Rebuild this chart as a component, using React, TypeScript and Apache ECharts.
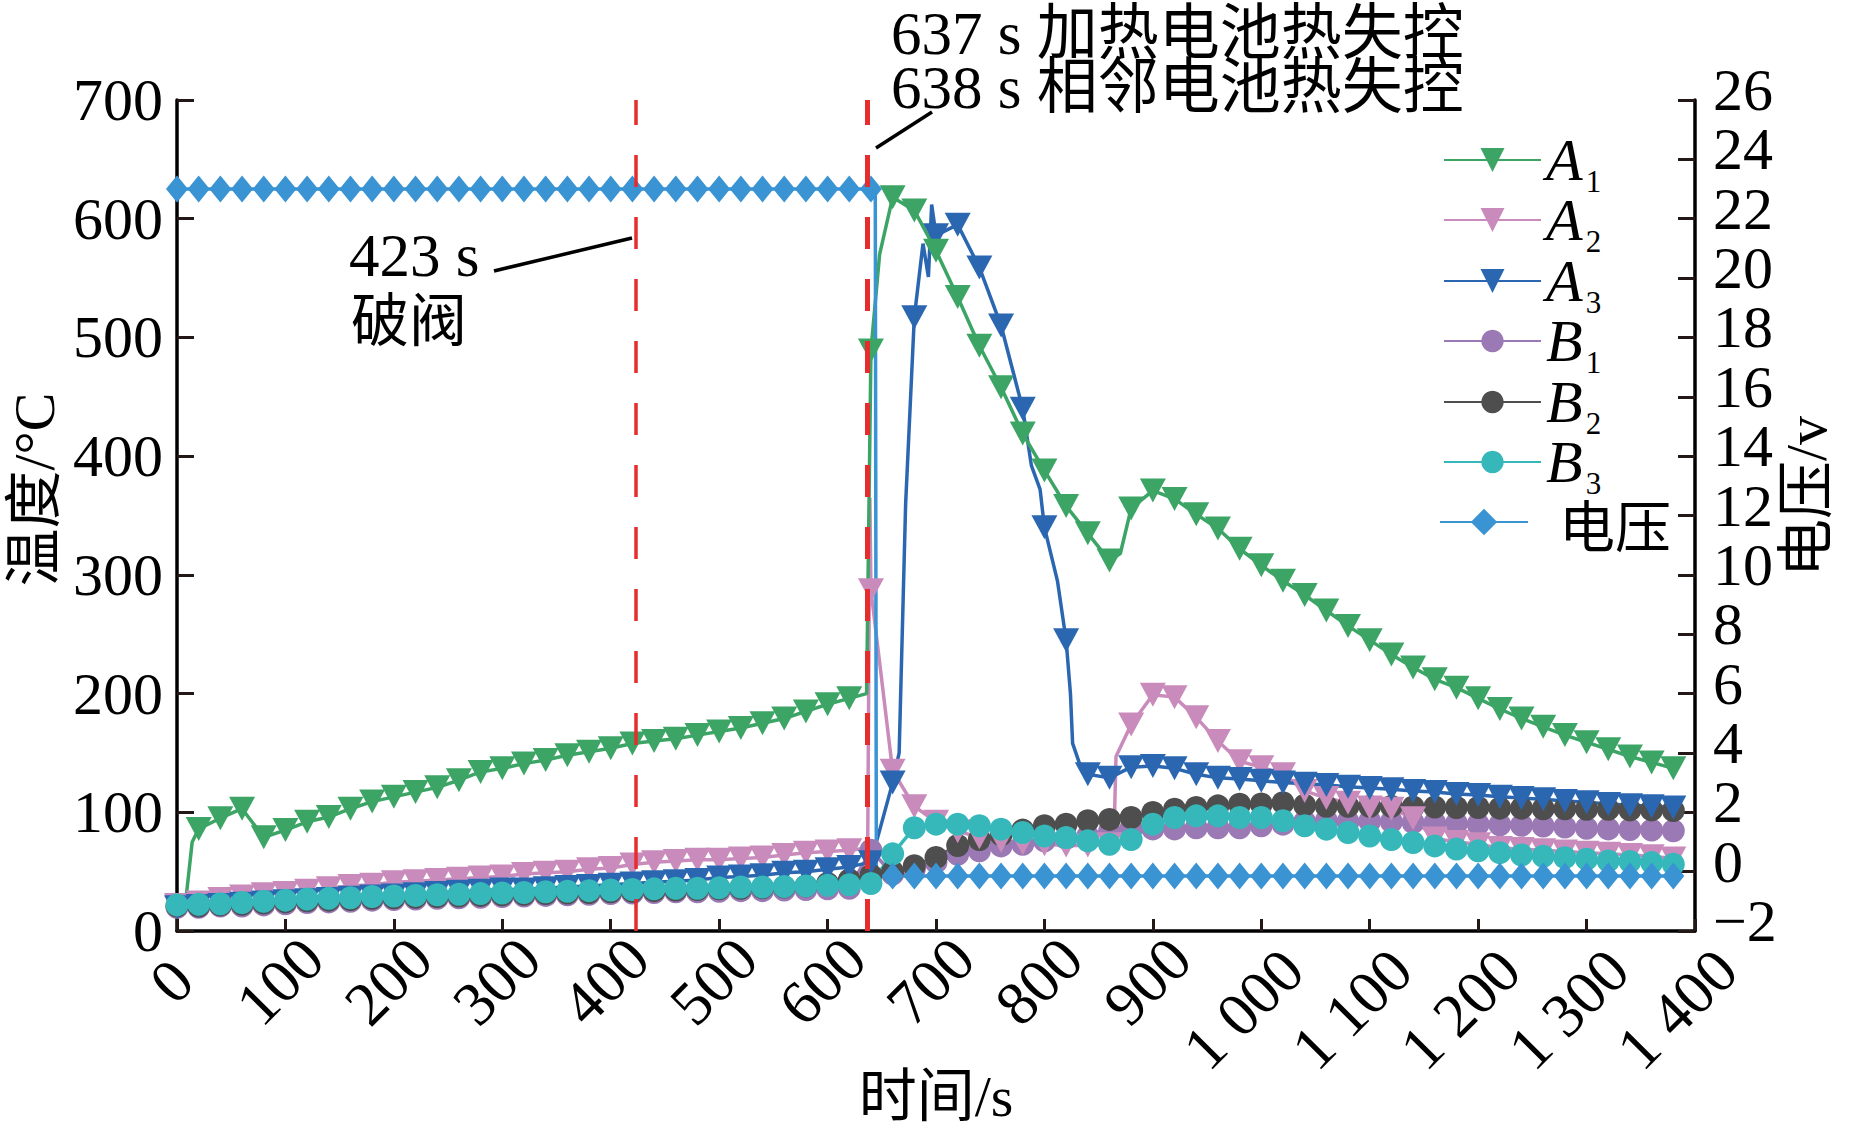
import React, { useEffect, useRef } from "react";
import * as echarts from "echarts";

// ---------------- data ----------------
const TIME = [
  0, 20, 40, 60, 80, 100, 120, 140, 160, 180, 200, 220, 240, 260, 280, 300, 320, 340, 360, 380,
  400, 420, 440, 460, 480, 500, 520, 540, 560, 580, 600, 620, 640, 660, 680, 700, 720, 740, 760, 780,
  800, 820, 840, 860, 880, 900, 920, 940, 960, 980, 1000, 1020, 1040, 1060, 1080, 1100, 1120, 1140, 1160, 1180,
  1200, 1220, 1240, 1260, 1280, 1300, 1320, 1340, 1360, 1380,
];

const A1 = [
  22, 86, 95, 103, 79, 85, 92, 96, 103, 109, 113, 117, 121, 127, 134, 137, 141, 144, 148, 151,
  154, 158, 160, 162, 165, 168, 171, 175, 179, 185, 191, 196, 489, 618, 607, 573, 534, 493, 458, 419,
  388, 358, 335, 312, 356, 371, 364, 351, 339, 322, 308, 295, 283, 270, 257, 245, 233, 222, 212, 205,
  196, 187, 179, 172, 165, 159, 153, 147, 142, 137,
];
const A2 = [
  22, 24, 27, 29, 31, 32, 34, 36, 38, 39, 41, 42, 43, 44, 45, 46, 48, 49, 50, 52,
  53, 56, 58, 59, 60, 60, 61, 62, 64, 66, 67, 68, 287, 135, 105, 92, 84, 79, 76, 74,
  73, 72, 72, 73, 174, 199, 197, 180, 160, 143, 138, 132, 118, 112, 108, 104, 103, 95, 78, 75,
  73, 70, 69, 68, 67, 66, 65, 64, 63, 61,
];
const A3 = [
  20, 21, 22, 23, 24, 25, 26, 27, 28, 29, 30, 31, 32, 33, 34, 35, 35, 36, 37, 38,
  39, 40, 41, 42, 43, 45, 46, 47, 49, 50, 52, 54, 58, 125, 517, 586, 595, 559, 510, 440,
  340, 245, 132, 129, 138, 139, 137, 132, 129, 128, 126.5, 125, 124, 123, 121.5, 120.5, 119.5, 118, 117, 115.5,
  114.5, 113, 112, 111, 109.5, 108.5, 107, 106, 105, 104,
];
const B1 = [
  20, 20, 21, 21, 22, 23, 24, 24.5, 25, 26, 26.5, 27, 27.5, 28, 28.5, 29, 29.5, 30, 30.5, 31,
  31.5, 32, 32.5, 33, 33, 33.5, 34, 34, 34.5, 35, 35.5, 36, 68, 48, 52, 58, 64.7, 67.5, 71.7, 73,
  76, 78, 80, 84, 87, 86, 86, 87, 87, 87, 88.6, 90, 92, 93, 92, 92.5, 92, 91.5, 91, 90.5,
  90, 89.5, 89, 88.5, 87.5, 86.5, 86, 85.5, 85, 84.5,
];
const B2 = [
  21, 21, 22, 22.5, 23.5, 24.5, 25.5, 26, 26.5, 27.5, 28, 28.5, 29, 29.5, 30, 30.5, 31, 31.5, 32, 32.5,
  33, 33.5, 34, 34.5, 35, 35.5, 36, 36.5, 37, 38, 40, 43, 47, 50, 55, 62, 72, 77, 81, 85,
  88.6, 90, 92.8, 94, 95.6, 99.8, 102.6, 104, 105.4, 106.8, 107, 108, 106, 105, 105, 105, 105, 104.5, 104.5, 104,
  104, 103.5, 103.5, 103, 103, 102.5, 102.5, 102, 102, 101.5,
];
const B3 = [
  22, 22.5, 23, 24, 25, 26, 27, 27.5, 28, 29, 29.5, 30, 30.5, 31, 31.5, 32, 32.5, 33, 33.5, 34,
  34.5, 35, 35.5, 36, 36, 36.5, 37, 37, 37.5, 38, 38.5, 39, 40, 65, 87, 90, 90, 88.6, 85.8, 83,
  80, 78.7, 76, 73, 77, 90, 95.6, 97, 97, 95.6, 95.6, 92.8, 88.6, 85.8, 83, 80, 77, 74.5, 71.7, 69,
  67.5, 66, 64, 63, 61.8, 60.5, 59, 58.5, 57.6, 56.2,
];
const VOLT = [
  23, 23, 23, 23, 23, 23, 23, 23, 23, 23, 23, 23, 23, 23, 23, 23, 23, 23, 23, 23,
  23, 23, 23, 23, 23, 23, 23, 23, 23, 23, 23, 23, 23, -0.15, -0.15, -0.15, -0.15, -0.15, -0.15, -0.15,
  -0.15, -0.15, -0.15, -0.15, -0.15, -0.15, -0.15, -0.15, -0.15, -0.15, -0.15, -0.15, -0.15, -0.15, -0.15, -0.15, -0.15, -0.15, -0.15, -0.15,
  -0.15, -0.15, -0.15, -0.15, -0.15, -0.15, -0.15, -0.15, -0.15, -0.15,
];

// unmarked intermediate samples (line only, no symbol)
const A1_EXTRA = [[8, 25], [14, 75], [636, 200], [648, 570], [870, 318]];
const A1_HIDDEN = [0];
const A2_EXTRA = [[637, 70], [639, 365], [864, 73], [866, 147]];
const A3_EXTRA = [
  [666, 150], [672, 360], [688, 579], [693, 551], [696, 612],
  [788, 392], [796, 372], [812, 295], [824, 200], [826, 158], [832, 142],
];
const VOLT_EXTRA = [[644, 23], [645, -0.15]];

const EVENTS = [423, 637];

const X_MIN = 0, X_MAX = 1400, X_STEP = 100;
const T_MIN = 0, T_MAX = 700, T_STEP = 100;
const V_MIN = -2, V_MAX = 26, V_STEP = 2;

// ---------------- styling ----------------
const LATIN = "'Liberation Serif', 'Times New Roman', serif";
const MIXED = "'Liberation Serif', 'Noto Sans CJK SC', serif";
const CJK = "'Noto Sans CJK SC', sans-serif";

const COLORS: Record<string, string> = {
  A1: "#3CA566",
  A2: "#C98BBB",
  A3: "#2B67B1",
  B1: "#9B79B4",
  B2: "#4E4E4E",
  B3: "#36B8BB",
  电压: "#3A93D3",
};

type Pt = { value: [number, number]; symbol?: string };

function build(values: number[], extras: number[][], hidden: number[] = []): Pt[] {
  const pts: Pt[] = TIME.map((t, i) =>
    hidden.indexOf(t) >= 0 ? { value: [t, values[i]], symbol: "none" } : { value: [t, values[i]] }
  );
  extras.forEach(([t, v]) => pts.push({ value: [t, v], symbol: "none" }));
  pts.sort((a, b) => a.value[0] - b.value[0]);
  return pts;
}

function lineSeries(name: string, data: Pt[], symbol: string, size: number | number[], rotate = 0, yAxisIndex = 0, extra: any = {}) {
  return {
    name,
    type: "line",
    data,
    yAxisIndex,
    symbol,
    symbolSize: size,
    symbolRotate: rotate,
    showAllSymbol: true,
    clip: false,
    smooth: false,
    lineStyle: { color: COLORS[name], width: 3.5 },
    itemStyle: { color: COLORS[name] },
    emphasis: { disabled: true },
    ...extra,
  };
}

const LEGEND_ITEMS = [
  { name: "A1", y: 167, ih: 30 },
  { name: "A2", y: 227, ih: 30 },
  { name: "A3", y: 288, ih: 30 },
  { name: "B1", y: 348, ih: 28 },
  { name: "B2", y: 409, ih: 28 },
  { name: "B3", y: 469, ih: 28 },
  { name: "电压", y: 531, ih: 33 },
];

const vLabel = (v: number) => String(v).replace("-", "−");

function buildOption() {
  const TRI = [26, 24];
  const CIR = 23;
  const series = [
    lineSeries("B1", build(B1, []), "circle", CIR),
    lineSeries("B2", build(B2, []), "circle", CIR),
    lineSeries("A2", build(A2, A2_EXTRA), "triangle", TRI, 180),
    lineSeries("A3", build(A3, A3_EXTRA), "triangle", TRI, 180),
    lineSeries("B3", build(B3, []), "circle", CIR),
    lineSeries("A1", build(A1, A1_EXTRA, A1_HIDDEN), "triangle", TRI, 180),
    lineSeries("电压", build(VOLT, VOLT_EXTRA), "diamond", [22, 27], 0, 1, {
      markLine: {
        silent: true,
        symbol: ["none", "none"],
        label: { show: false },
        animation: false,
        z: 6,
        data: [
          { xAxis: EVENTS[0], lineStyle: { color: "#E52D2D", width: 3.5, type: [32, 30] } },
          { xAxis: EVENTS[1], lineStyle: { color: "#E52D2D", width: 5, type: [32, 30] } },
        ],
      },
    }),
  ];

  const legend = LEGEND_ITEMS.map((it) => {
    const isV = it.name === "电压";
    return {
      data: [it.name],
      orient: "vertical",
      left: isV ? 1439 : 1443,
      top: it.y - 37,
      padding: 0,
      itemWidth: isV ? 88 : 97,
      itemHeight: it.ih,
      selectedMode: false,
      formatter: (n: string) => (n === "电压" ? "{c|电压}" : `{i|${n[0]}}{s|${n[1]}}`),
      textStyle: {
        color: "#000",
        rich: {
          i: { fontFamily: LATIN, fontStyle: "italic", fontSize: 60, lineHeight: 74, color: "#000", verticalAlign: "middle" },
          s: { fontFamily: LATIN, fontSize: 31, lineHeight: 30, color: "#000", verticalAlign: "bottom", padding: [0, 0, 0, 3] },
          c: { fontFamily: CJK, fontSize: 56, lineHeight: 74, color: "#000", padding: [0, 0, 0, 26] },
        },
      },
    };
  });

  const tickColor = "#231815";
  const rightLabelBase = {
    margin: 18,
    fontFamily: LATIN,
    fontSize: 60,
    color: "#000",
    showMinLabel: true,
    showMaxLabel: true,
    hideOverlap: false,
    lineHeight: 20,
    verticalAlign: "bottom",
  };

  return {
    animation: false,
    backgroundColor: "#ffffff",
    grid: { left: 177, right: 154, top: 100, bottom: 202, containLabel: false, outerBoundsMode: "none" },
    legend,
    xAxis: {
      type: "value",
      min: X_MIN,
      max: X_MAX,
      interval: X_STEP,
      axisLine: { show: true, onZero: false, lineStyle: { color: "#000", width: 3.5 } },
      axisTick: { show: true, inside: true, length: 12, lineStyle: { color: tickColor, width: 3 } },
      splitLine: { show: false },
      axisLabel: {
        rotate: 45,
        align: "center",
        verticalAlign: "middle",
        margin: 50,
        showMinLabel: true,
        showMaxLabel: true,
        hideOverlap: false,
        fontFamily: LATIN,
        fontSize: 62,
        color: "#000",
        formatter: (v: number) => (v >= 1000 ? `{l|${"1 " + String(v).slice(1)}}` : `{s|${v}}`),
        rich: {
          s: { fontFamily: LATIN, fontSize: 62, color: "#000", padding: [0, 8, 8, 0] },
          l: { fontFamily: LATIN, fontSize: 62, color: "#000", padding: [14, 65, 0, 0] },
        },
      },
      name: "时间/s",
      nameLocation: "middle",
      nameGap: 136,
      nameMoveOverlap: false,
      nameTextStyle: { fontFamily: MIXED, fontSize: 58, color: "#000" },
    },
    yAxis: [
      {
        type: "value",
        position: "left",
        min: T_MIN,
        max: T_MAX,
        interval: T_STEP,
        axisLine: { show: true, lineStyle: { color: "#000", width: 3.5 } },
        axisTick: { show: true, inside: true, length: 17, lineStyle: { color: tickColor, width: 3 } },
        splitLine: { show: false },
        axisLabel: { margin: 14, fontFamily: LATIN, fontSize: 60, color: "#000", showMinLabel: true, showMaxLabel: true, hideOverlap: false },
        name: "温度/°C",
        nameLocation: "middle",
        nameRotate: 90,
        nameGap: 114,
        nameMoveOverlap: false,
        nameTextStyle: { fontFamily: MIXED, fontSize: 58, color: "#000", padding: [0, 0, 0, 52] },
      },
      {
        // voltage axis: line, ticks and inner labels
        type: "value",
        position: "right",
        min: V_MIN,
        max: V_MAX,
        interval: V_STEP,
        axisLine: { show: true, lineStyle: { color: "#000", width: 3.5 } },
        axisTick: { show: true, inside: true, length: 17, lineStyle: { color: tickColor, width: 3 } },
        splitLine: { show: false },
        axisLabel: {
          ...rightLabelBase,
          formatter: (v: number) => (v === V_MIN || v === V_MAX ? "" : vLabel(v)),
        },
        name: "电压/v",
        nameLocation: "middle",
        nameRotate: 90,
        nameGap: 82,
        nameMoveOverlap: false,
        nameTextStyle: { fontFamily: MIXED, fontSize: 58, color: "#000", padding: [0, 0, 0, 38] },
      },
      {
        // same voltage scale, only its end labels
        type: "value",
        position: "right",
        offset: 0,
        min: V_MIN,
        max: V_MAX,
        interval: V_STEP,
        axisLine: { show: false },
        axisTick: { show: false },
        splitLine: { show: false },
        axisLabel: {
          ...rightLabelBase,
          formatter: (v: number) => (v === V_MIN || v === V_MAX ? vLabel(v) : ""),
        },
      },
    ],
    graphic: [
      {
        type: "text",
        x: 891,
        y: 33,
        z: 100,
        style: { text: "637 s 加热电池热失控", fontFamily: MIXED, fontSize: 61, fill: "#000", align: "left", verticalAlign: "middle" },
      },
      {
        type: "text",
        x: 891,
        y: 87,
        z: 100,
        style: { text: "638 s 相邻电池热失控", fontFamily: MIXED, fontSize: 61, fill: "#000", align: "left", verticalAlign: "middle" },
      },
      {
        type: "line",
        z: 100,
        shape: { x1: 876, y1: 148, x2: 932, y2: 112 },
        style: { stroke: "#000", lineWidth: 3.5 },
      },
      {
        type: "text",
        x: 349,
        y: 255,
        z: 100,
        style: { text: "423 s", fontFamily: LATIN, fontSize: 61, fill: "#000", align: "left", verticalAlign: "middle" },
      },
      {
        type: "text",
        x: 351,
        y: 316,
        z: 100,
        style: { text: "破阀", fontFamily: CJK, fontSize: 58, fill: "#000", align: "left", verticalAlign: "middle" },
      },
      {
        type: "line",
        z: 100,
        shape: { x1: 494, y1: 271, x2: 632, y2: 238 },
        style: { stroke: "#000", lineWidth: 3.5 },
      },
    ],
    series,
  };
}

export default function App() {
  const ref = useRef<HTMLDivElement>(null);
  useEffect(() => {
    if (!ref.current) return;
    const chart = echarts.init(ref.current, null, { renderer: "svg" });
    chart.setOption(buildOption() as any);
    return () => {
      chart.dispose();
    };
  }, []);
  return (
    <div
      ref={ref}
      style={{ position: "fixed", left: 0, top: 0, width: 1849, height: 1133, background: "#fff" }}
    />
  );
}
